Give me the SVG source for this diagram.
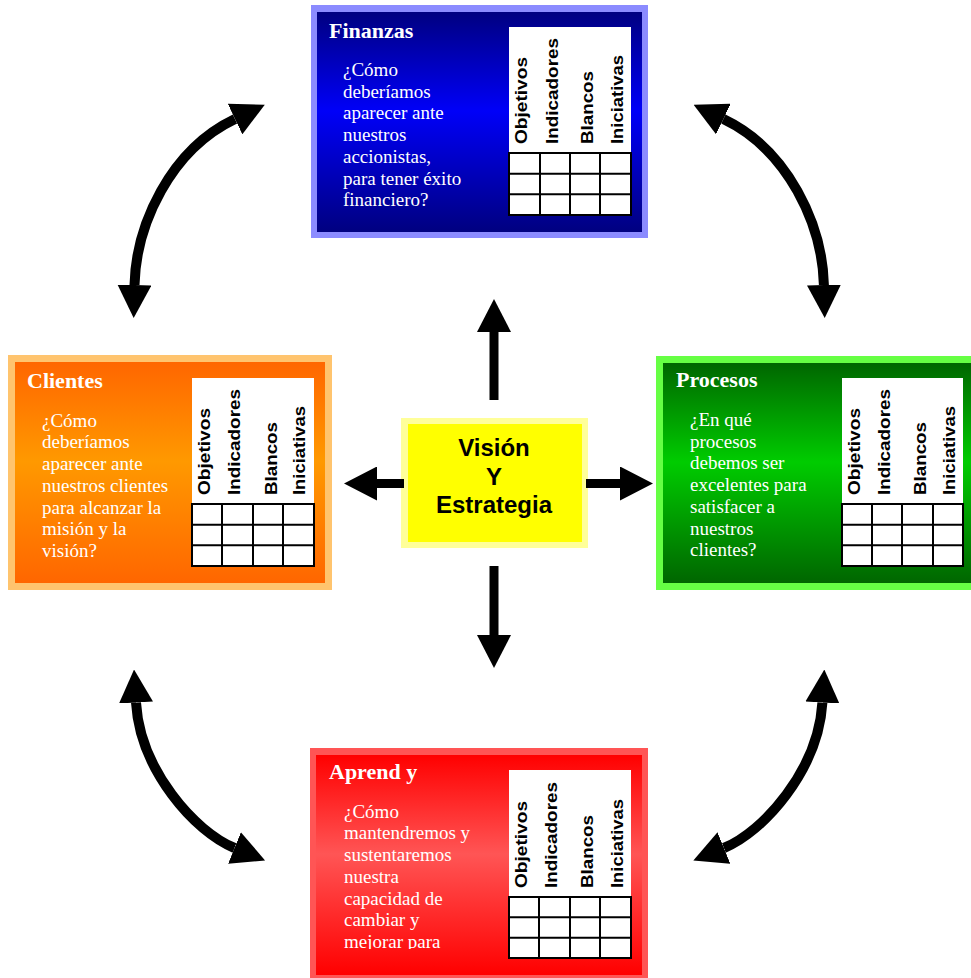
<svg xmlns="http://www.w3.org/2000/svg" width="971" height="978" viewBox="0 0 971 978">
<style>
.title{font-family:"Liberation Serif","Times New Roman",serif;font-weight:bold;font-size:22px;fill:#ffffff}
.body{font-family:"Liberation Serif","Times New Roman",serif;font-size:19px;fill:#ffffff}
.lbl{font-family:"Liberation Sans",Arial,sans-serif;font-weight:bold;font-size:16.5px;fill:#000000}
.hdr{fill:#ffffff}
.grid{fill:#ffffff;stroke:#000000;stroke-width:2}
.gl{stroke:#000000;stroke-width:2;fill:none}
.ctr{font-family:"Liberation Sans",Arial,sans-serif;font-weight:bold;font-size:24px;fill:#000000;text-anchor:middle}
.shaft{stroke:#000000;stroke-width:9;fill:none}
.curve{stroke:#000000;stroke-width:10;fill:none}
</style>
<defs>
<linearGradient id="gBlue" x1="0" y1="0" x2="0" y2="1"><stop offset="0" stop-color="#000080"/><stop offset="0.45" stop-color="#0000f8"/><stop offset="1" stop-color="#000080"/></linearGradient>
<linearGradient id="gOrange" x1="0" y1="0" x2="0" y2="1"><stop offset="0" stop-color="#ff6600"/><stop offset="0.45" stop-color="#ff9900"/><stop offset="1" stop-color="#ff6600"/></linearGradient>
<linearGradient id="gGreen" x1="0" y1="0" x2="0" y2="1"><stop offset="0" stop-color="#006600"/><stop offset="0.45" stop-color="#00cc00"/><stop offset="1" stop-color="#006600"/></linearGradient>
<linearGradient id="gRed" x1="0" y1="0" x2="0" y2="1"><stop offset="0" stop-color="#ff0000"/><stop offset="0.45" stop-color="#ff5555"/><stop offset="1" stop-color="#ff0000"/></linearGradient>
<marker id="ah" viewBox="0 0 33 34" refX="0" refY="17" markerWidth="33" markerHeight="34" markerUnits="userSpaceOnUse" orient="auto-start-reverse"><path d="M0,0 L33,17 L0,34 z" fill="#000000"/></marker>
<clipPath id="clipAprend"><rect x="316" y="755" width="190" height="194"/></clipPath>
</defs>

<g id="finanzas">
<rect x="311" y="5" width="337" height="233" fill="#8b8bff"/>
<rect x="317" y="12" width="325" height="220" fill="url(#gBlue)"/>
<text class="title" x="329" y="38">Finanzas</text>
<text class="body" x="343" y="76">¿Cómo</text>
<text class="body" x="343" y="97.7">deberíamos</text>
<text class="body" x="343" y="119.4">aparecer ante</text>
<text class="body" x="343" y="141.1">nuestros</text>
<text class="body" x="343" y="162.8">accionistas,</text>
<text class="body" x="343" y="184.5">para tener éxito</text>
<text class="body" x="343" y="206.2">financiero?</text>
<g transform="translate(509,27)">
<rect class="hdr" x="0" y="0" width="122" height="127"/>
<rect class="grid" x="0" y="126" width="122" height="62"/>
<path class="gl" d="M0,146.7H122M0,167.3H122M31,126V188M61,126V188M91,126V188"/>
<text class="lbl" transform="translate(18,117) rotate(-90)" textLength="87" lengthAdjust="spacingAndGlyphs">Objetivos</text>
<text class="lbl" transform="translate(49,117) rotate(-90)" textLength="106" lengthAdjust="spacingAndGlyphs">Indicadores</text>
<text class="lbl" transform="translate(84,117) rotate(-90)" textLength="73" lengthAdjust="spacingAndGlyphs">Blancos</text>
<text class="lbl" transform="translate(114,117) rotate(-90)" textLength="89" lengthAdjust="spacingAndGlyphs">Iniciativas</text>
</g>
</g>

<g id="clientes">
<rect x="8" y="355" width="324" height="235" fill="#ffc46e"/>
<rect x="15" y="362" width="310" height="221" fill="url(#gOrange)"/>
<text class="title" x="27" y="388">Clientes</text>
<text class="body" x="42" y="426.7">¿Cómo</text>
<text class="body" x="42" y="448.4">deberíamos</text>
<text class="body" x="42" y="470.1">aparecer ante</text>
<text class="body" x="42" y="491.8">nuestros clientes</text>
<text class="body" x="42" y="513.5">para alcanzar la</text>
<text class="body" x="42" y="535.2">misión y la</text>
<text class="body" x="42" y="556.9">visión?</text>
<g transform="translate(192,378)">
<rect class="hdr" x="0" y="0" width="122" height="127"/>
<rect class="grid" x="0" y="126" width="122" height="62"/>
<path class="gl" d="M0,146.7H122M0,167.3H122M30,126V188M61,126V188M91,126V188"/>
<text class="lbl" transform="translate(18,117) rotate(-90)" textLength="87" lengthAdjust="spacingAndGlyphs">Objetivos</text>
<text class="lbl" transform="translate(48,117) rotate(-90)" textLength="106" lengthAdjust="spacingAndGlyphs">Indicadores</text>
<text class="lbl" transform="translate(85,117) rotate(-90)" textLength="73" lengthAdjust="spacingAndGlyphs">Blancos</text>
<text class="lbl" transform="translate(113,117) rotate(-90)" textLength="89" lengthAdjust="spacingAndGlyphs">Iniciativas</text>
</g>
</g>

<g id="procesos">
<rect x="656" y="356" width="315" height="234" fill="#66ff44"/>
<rect x="663" y="363" width="308" height="220" fill="url(#gGreen)"/>
<text class="title" x="676" y="387">Procesos</text>
<text class="body" x="690" y="426">¿En qué</text>
<text class="body" x="690" y="447.7">procesos</text>
<text class="body" x="690" y="469.4">debemos ser</text>
<text class="body" x="690" y="491.1">excelentes para</text>
<text class="body" x="690" y="512.8">satisfacer a</text>
<text class="body" x="690" y="534.5">nuestros</text>
<text class="body" x="690" y="556.2">clientes?</text>
<g transform="translate(842,378)">
<rect class="hdr" x="0" y="0" width="121" height="127"/>
<rect class="grid" x="0" y="126" width="121" height="62"/>
<path class="gl" d="M0,146.7H121M0,167.3H121M30,126V188M60,126V188M91,126V188"/>
<text class="lbl" transform="translate(18,117) rotate(-90)" textLength="87" lengthAdjust="spacingAndGlyphs">Objetivos</text>
<text class="lbl" transform="translate(48,117) rotate(-90)" textLength="106" lengthAdjust="spacingAndGlyphs">Indicadores</text>
<text class="lbl" transform="translate(84,117) rotate(-90)" textLength="73" lengthAdjust="spacingAndGlyphs">Blancos</text>
<text class="lbl" transform="translate(113,117) rotate(-90)" textLength="89" lengthAdjust="spacingAndGlyphs">Iniciativas</text>
</g>
</g>

<g id="aprend">
<rect x="310" y="748" width="338" height="230" fill="#ff5555"/>
<rect x="316" y="755" width="326" height="220" fill="url(#gRed)"/>
<text class="title" x="329" y="779">Aprend y</text>
<g clip-path="url(#clipAprend)">
<text class="body" x="344" y="817.7">¿Cómo</text>
<text class="body" x="344" y="839.4">mantendremos y</text>
<text class="body" x="344" y="861.1">sustentaremos</text>
<text class="body" x="344" y="882.8">nuestra</text>
<text class="body" x="344" y="904.5">capacidad de</text>
<text class="body" x="344" y="926.2">cambiar y</text>
<text class="body" x="344" y="947.9">mejorar para</text>
</g>
<g transform="translate(509,770)">
<rect class="hdr" x="0" y="0" width="122" height="128"/>
<rect class="grid" x="0" y="127" width="122" height="61"/>
<path class="gl" d="M0,147.3H122M0,167.7H122M30,127V188M61,127V188M91,127V188"/>
<text class="lbl" transform="translate(18,118) rotate(-90)" textLength="87" lengthAdjust="spacingAndGlyphs">Objetivos</text>
<text class="lbl" transform="translate(48,118) rotate(-90)" textLength="106" lengthAdjust="spacingAndGlyphs">Indicadores</text>
<text class="lbl" transform="translate(84,118) rotate(-90)" textLength="73" lengthAdjust="spacingAndGlyphs">Blancos</text>
<text class="lbl" transform="translate(114,118) rotate(-90)" textLength="89" lengthAdjust="spacingAndGlyphs">Iniciativas</text>
</g>
</g>

<g id="vision">
<rect x="401" y="418" width="187" height="130" fill="#ffff99"/>
<rect x="408" y="424" width="174" height="118" fill="#ffff00"/>
<text class="ctr" x="494" y="456">Visión</text>
<text class="ctr" x="494" y="484.5">Y</text>
<text class="ctr" x="494" y="513">Estrategia</text>
</g>

<g id="connectors">
<line class="shaft" x1="494" y1="400" x2="494" y2="332" marker-end="url(#ah)"/>
<line class="shaft" x1="494" y1="566" x2="494" y2="635" marker-end="url(#ah)"/>
<line class="shaft" x1="404" y1="483.5" x2="377" y2="483.5" marker-end="url(#ah)"/>
<line class="shaft" x1="586" y1="483.5" x2="620" y2="483.5" marker-end="url(#ah)"/>
<path class="curve" d="M134.5,285 C136,225 170,150 235,119" marker-start="url(#ah)" marker-end="url(#ah)"/>
<path class="curve" d="M823.9,285 C822.4,225 788.4,150 723.4,119" marker-start="url(#ah)" marker-end="url(#ah)"/>
<path class="curve" d="M136,702.5 C140,770 195,832 234.5,848" marker-start="url(#ah)" marker-end="url(#ah)"/>
<path class="curve" d="M822.4,702.5 C818.4,770 763.4,832 723.9,848" marker-start="url(#ah)" marker-end="url(#ah)"/>
</g>
</svg>
